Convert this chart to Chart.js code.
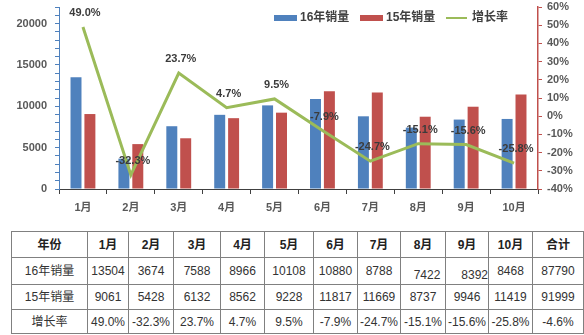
<!DOCTYPE html>
<html lang="zh">
<head>
  <meta charset="UTF-8">
  <title>16年与15年销量对比</title>
  <script src="https://cdn.jsdelivr.net/npm/chart.js"></script>
  <style>
    body {
      margin: 0;
      background: #fff;
      width: 584px;
      height: 335px;
      overflow: hidden;
      position: relative;
      font-family: "Liberation Sans", "Noto Sans CJK SC", sans-serif;
    }
    #wrap {
      position: absolute;
      left: 0;
      top: 0;
      width: 584px;
      height: 226px;
    }
    table {
      position: absolute;
      left: 11px;
      top: 231px;
      border-collapse: collapse;
      table-layout: fixed;
      font-size: 12px;
      line-height: 14px;
      color: #333;
    }
    td, th {
      border: 1px solid #808080;
      text-align: center;
      padding: 0;
      white-space: nowrap;
    }
    th {
      font-weight: bold;
      color: #222;
    }
  </style>
</head>
<body>
  <div id="wrap"><canvas id="chart"></canvas></div>
  <table id="tbl"></table>

  <script>
    const months = ['1月', '2月', '3月', '4月', '5月', '6月', '7月', '8月', '9月', '10月'];
    const sales16 = [13504, 3674, 7588, 8966, 10108, 10880, 8788, 7422, 8392, 8468];
    const sales15 = [9061, 5428, 6132, 8562, 9228, 11817, 11669, 8737, 9946, 11419];
    const growth = [49.0, -32.3, 23.7, 4.7, 9.5, -7.9, -24.7, -15.1, -15.6, -25.8];
    const growthTotal = -4.6;

    const seriesNames = ['16年销量', '15年销量', '增长率'];
    const colors = ['#4F81BD', '#C0504D', '#9BBB59'];
    const tickFont = { family: '"Liberation Sans", "Noto Sans CJK SC", sans-serif', size: 11, weight: 'bold' };

    // percent labels over the line
    const lineLabels = {
      id: 'lineLabels',
      afterDatasetsDraw(chart) {
        const ctx = chart.ctx;
        const meta = chart.getDatasetMeta(2);
        ctx.save();
        ctx.font = 'bold 11px "Liberation Sans", "Noto Sans CJK SC", sans-serif';
        ctx.fillStyle = '#3b3b3b';
        ctx.textAlign = 'center';
        ctx.textBaseline = 'middle';
        meta.data.forEach((pt, i) => {
          ctx.fillText(growth[i].toFixed(1) + '%', pt.x + 2, pt.y - 14);
        });
        ctx.restore();
      }
    };

    // legend drawn inside the plot, top right
    const insideLegend = {
      id: 'insideLegend',
      afterDraw(chart) {
        const ctx = chart.ctx;
        const y = 18;
        let x = 274;
        ctx.save();
        ctx.font = 'bold 12px "Liberation Sans", "Noto Sans CJK SC", sans-serif';
        ctx.textBaseline = 'middle';
        seriesNames.forEach((name, i) => {
          if (i < 2) {
            ctx.fillStyle = colors[i];
            ctx.fillRect(x, y - 3, 23, 6);
          } else {
            ctx.strokeStyle = colors[i];
            ctx.lineWidth = 2;
            ctx.beginPath();
            ctx.moveTo(x, y);
            ctx.lineTo(x + 21, y);
            ctx.stroke();
          }
          ctx.fillStyle = '#404040';
          ctx.fillText(name, x + 26, y);
          x += 86;
        });
        ctx.restore();
      }
    };

    // fixed axis sizes, no extra room for the end labels
    const fitY = w => s => { s.width = w; s.paddingTop = 0; s.paddingBottom = 0; };

    new Chart(document.getElementById('chart'), {
      data: {
        labels: months,
        datasets: [
          {
            type: 'bar',
            label: seriesNames[0],
            data: sales16,
            backgroundColor: colors[0],
            yAxisID: 'y',
            categoryPercentage: 0.58,
            barPercentage: 0.79,
            order: 1
          },
          {
            type: 'bar',
            label: seriesNames[1],
            data: sales15,
            backgroundColor: colors[1],
            yAxisID: 'y',
            categoryPercentage: 0.58,
            barPercentage: 0.79,
            order: 1
          },
          {
            type: 'line',
            label: seriesNames[2],
            data: growth,
            borderColor: colors[2],
            borderWidth: 3,
            pointRadius: 0,
            tension: 0,
            yAxisID: 'y1',
            order: 0
          }
        ]
      },
      options: {
        responsive: true,
        maintainAspectRatio: false,
        animation: false,
        layout: { padding: { top: 7, left: 0, right: 0, bottom: 0 } },
        plugins: {
          legend: { display: false },
          tooltip: { enabled: false }
        },
        scales: {
          x: {
            afterFit: s => { s.height = 37; s.paddingLeft = 0; s.paddingRight = 0; },
            grid: { drawOnChartArea: false, offset: true, tickLength: 5, color: '#404040' },
            border: { color: '#404040', width: 1 },
            ticks: { font: tickFont, color: '#595959', padding: 7, maxRotation: 0 }
          },
          y: {
            position: 'left',
            min: 0,
            max: 22000,
            afterFit: fitY(59),
            grid: { drawOnChartArea: false, tickLength: 4, color: '#4F81BD' },
            border: { color: '#4F81BD', width: 1 },
            ticks: {
              stepSize: 1000,
              autoSkip: false,
              font: tickFont,
              color: '#595959',
              padding: 8,
              callback: v => (v % 5000 === 0 ? v : '')
            }
          },
          y1: {
            position: 'right',
            min: -40,
            max: 60,
            afterFit: fitY(46),
            grid: { drawOnChartArea: false, tickLength: 4, color: '#C0504D' },
            border: { color: '#C0504D', width: 1.5 },
            ticks: {
              stepSize: 10,
              font: tickFont,
              color: '#595959',
              padding: 5,
              callback: v => v + '%'
            }
          }
        }
      },
      plugins: [lineLabels, insideLegend]
    });

    // table under the chart
    const colWidths = [76, 41, 45, 47, 44, 49, 44, 43, 45, 43, 44, 51];
    const rowHeights = [26, 27, 25, 24];
    const sum = arr => arr.reduce((a, b) => a + b, 0);
    const rows = [
      ['年份', ...months, '合计'],
      ['16年销量', ...sales16, sum(sales16)],
      ['15年销量', ...sales15, sum(sales15)],
      ['增长率', ...growth.map(g => g.toFixed(1) + '%'), growthTotal.toFixed(1) + '%']
    ];
    const tbl = document.getElementById('tbl');
    const cg = document.createElement('colgroup');
    colWidths.forEach(w => {
      const c = document.createElement('col');
      c.style.width = w + 'px';
      cg.appendChild(c);
    });
    tbl.appendChild(cg);
    rows.forEach((r, ri) => {
      const tr = document.createElement('tr');
      tr.style.height = rowHeights[ri] + 'px';
      r.forEach((v, ci) => {
        const cell = document.createElement(ri === 0 ? 'th' : 'td');
        cell.textContent = v;
        // the 8月/9月 cells of the 16年 row sit low in the original
        if (ri === 1 && (ci === 8 || ci === 9)) {
          cell.style.verticalAlign = 'bottom';
          cell.style.paddingBottom = '2px';
          if (ci === 9) { cell.style.textAlign = 'right'; }
          else { cell.style.paddingLeft = '8px'; }
        }
        tr.appendChild(cell);
      });
      tbl.appendChild(tr);
    });
  </script>
</body>
</html>
